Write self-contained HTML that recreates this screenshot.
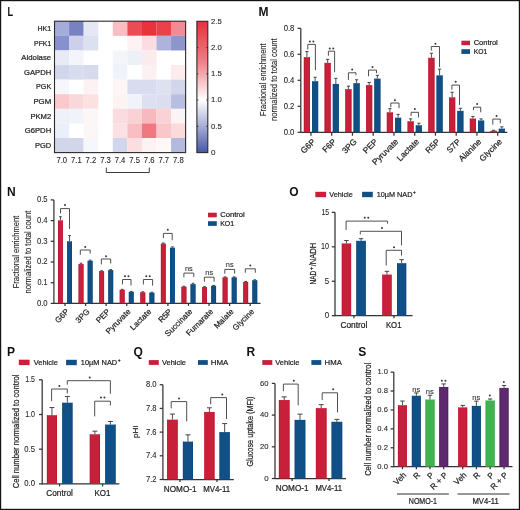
<!DOCTYPE html>
<html><head><meta charset="utf-8"><title>Figure</title>
<style>
html,body{margin:0;padding:0;background:#fff;}
body{width:520px;height:510px;overflow:hidden;}
svg{display:block;font-family:"Liberation Sans", sans-serif;will-change:transform;}
</style></head>
<body>
<svg width="520" height="510" viewBox="0 0 520 510">
<rect x="0" y="0" width="520" height="510" fill="#fff"/>
<g fill="#222222">
<text x="7.6" y="15.6" font-size="12" font-weight="bold" fill="#111111" textLength="5.6" lengthAdjust="spacingAndGlyphs">L</text>
<rect x="54.5" y="21.2" width="14.62" height="14.65" fill="rgb(165,172,218)"/>
<rect x="69.07" y="21.2" width="14.62" height="14.65" fill="rgb(120,130,195)"/>
<rect x="83.64" y="21.2" width="14.62" height="14.65" fill="rgb(228,232,245)"/>
<rect x="112.78" y="21.2" width="14.62" height="14.65" fill="rgb(248,190,195)"/>
<rect x="127.35" y="21.2" width="14.62" height="14.65" fill="rgb(235,75,85)"/>
<rect x="141.92" y="21.2" width="14.62" height="14.65" fill="rgb(232,50,60)"/>
<rect x="156.49" y="21.2" width="14.62" height="14.65" fill="rgb(236,65,75)"/>
<rect x="171.06" y="21.2" width="14.62" height="14.65" fill="rgb(240,140,150)"/>
<rect x="54.5" y="35.8" width="14.62" height="14.65" fill="rgb(135,145,205)"/>
<rect x="69.07" y="35.8" width="14.62" height="14.65" fill="rgb(205,208,232)"/>
<rect x="83.64" y="35.8" width="14.62" height="14.65" fill="rgb(220,224,240)"/>
<rect x="127.35" y="35.8" width="14.62" height="14.65" fill="rgb(253,243,243)"/>
<rect x="141.92" y="35.8" width="14.62" height="14.65" fill="rgb(250,220,225)"/>
<rect x="156.49" y="35.8" width="14.62" height="14.65" fill="rgb(175,178,220)"/>
<rect x="171.06" y="35.8" width="14.62" height="14.65" fill="rgb(140,150,205)"/>
<rect x="54.5" y="50.4" width="14.62" height="14.65" fill="rgb(232,235,245)"/>
<rect x="69.07" y="50.4" width="14.62" height="14.65" fill="rgb(243,245,250)"/>
<rect x="112.78" y="50.4" width="14.62" height="14.65" fill="rgb(243,245,250)"/>
<rect x="127.35" y="50.4" width="14.62" height="14.65" fill="rgb(238,240,248)"/>
<rect x="141.92" y="50.4" width="14.62" height="14.65" fill="rgb(252,235,237)"/>
<rect x="54.5" y="65" width="14.62" height="14.65" fill="rgb(210,214,235)"/>
<rect x="69.07" y="65" width="14.62" height="14.65" fill="rgb(215,220,238)"/>
<rect x="83.64" y="65" width="14.62" height="14.65" fill="rgb(215,218,236)"/>
<rect x="112.78" y="65" width="14.62" height="14.65" fill="rgb(240,243,250)"/>
<rect x="141.92" y="65" width="14.62" height="14.65" fill="rgb(253,240,242)"/>
<rect x="171.06" y="65" width="14.62" height="14.65" fill="rgb(253,235,237)"/>
<rect x="54.5" y="79.6" width="14.62" height="14.65" fill="rgb(245,247,252)"/>
<rect x="83.64" y="79.6" width="14.62" height="14.65" fill="rgb(253,242,243)"/>
<rect x="112.78" y="79.6" width="14.62" height="14.65" fill="rgb(253,245,246)"/>
<rect x="127.35" y="79.6" width="14.62" height="14.65" fill="rgb(215,220,238)"/>
<rect x="141.92" y="79.6" width="14.62" height="14.65" fill="rgb(215,220,238)"/>
<rect x="156.49" y="79.6" width="14.62" height="14.65" fill="rgb(222,226,240)"/>
<rect x="171.06" y="79.6" width="14.62" height="14.65" fill="rgb(210,214,234)"/>
<rect x="54.5" y="94.2" width="14.62" height="14.65" fill="rgb(250,200,205)"/>
<rect x="69.07" y="94.2" width="14.62" height="14.65" fill="rgb(250,215,218)"/>
<rect x="83.64" y="94.2" width="14.62" height="14.65" fill="rgb(252,225,225)"/>
<rect x="112.78" y="94.2" width="14.62" height="14.65" fill="rgb(253,243,244)"/>
<rect x="127.35" y="94.2" width="14.62" height="14.65" fill="rgb(240,244,250)"/>
<rect x="141.92" y="94.2" width="14.62" height="14.65" fill="rgb(220,224,240)"/>
<rect x="156.49" y="94.2" width="14.62" height="14.65" fill="rgb(218,222,238)"/>
<rect x="171.06" y="94.2" width="14.62" height="14.65" fill="rgb(185,190,225)"/>
<rect x="54.5" y="108.8" width="14.62" height="14.65" fill="rgb(238,241,249)"/>
<rect x="69.07" y="108.8" width="14.62" height="14.65" fill="rgb(240,243,250)"/>
<rect x="83.64" y="108.8" width="14.62" height="14.65" fill="rgb(253,246,246)"/>
<rect x="112.78" y="108.8" width="14.62" height="14.65" fill="rgb(251,220,222)"/>
<rect x="127.35" y="108.8" width="14.62" height="14.65" fill="rgb(249,210,213)"/>
<rect x="141.92" y="108.8" width="14.62" height="14.65" fill="rgb(247,185,190)"/>
<rect x="156.49" y="108.8" width="14.62" height="14.65" fill="rgb(250,210,213)"/>
<rect x="171.06" y="108.8" width="14.62" height="14.65" fill="rgb(251,244,246)"/>
<rect x="54.5" y="123.4" width="14.62" height="14.65" fill="rgb(235,239,249)"/>
<rect x="83.64" y="123.4" width="14.62" height="14.65" fill="rgb(253,246,246)"/>
<rect x="112.78" y="123.4" width="14.62" height="14.65" fill="rgb(251,225,227)"/>
<rect x="127.35" y="123.4" width="14.62" height="14.65" fill="rgb(248,190,195)"/>
<rect x="141.92" y="123.4" width="14.62" height="14.65" fill="rgb(240,120,130)"/>
<rect x="156.49" y="123.4" width="14.62" height="14.65" fill="rgb(249,198,202)"/>
<rect x="171.06" y="123.4" width="14.62" height="14.65" fill="rgb(251,218,220)"/>
<rect x="54.5" y="138" width="14.62" height="14.65" fill="rgb(210,214,235)"/>
<rect x="69.07" y="138" width="14.62" height="14.65" fill="rgb(210,214,234)"/>
<rect x="83.64" y="138" width="14.62" height="14.65" fill="rgb(245,247,251)"/>
<rect x="112.78" y="138" width="14.62" height="14.65" fill="rgb(210,214,236)"/>
<rect x="127.35" y="138" width="14.62" height="14.65" fill="rgb(252,222,225)"/>
<rect x="141.92" y="138" width="14.62" height="14.65" fill="rgb(253,243,244)"/>
<rect x="156.49" y="138" width="14.62" height="14.65" fill="rgb(254,248,248)"/>
<rect x="171.06" y="138" width="14.62" height="14.65" fill="rgb(180,185,222)"/>
<rect x="54.5" y="21.2" width="131.13" height="131.4" fill="none" stroke="#2a2a2a" stroke-width="1.1"/>
<text x="51.2" y="30.9" font-size="7.8" text-anchor="end" stroke="#222222" stroke-width="0.22" textLength="13.7" lengthAdjust="spacingAndGlyphs">HK1</text>
<text x="51.2" y="45.5" font-size="7.8" text-anchor="end" stroke="#222222" stroke-width="0.22" textLength="17.1" lengthAdjust="spacingAndGlyphs">PFK1</text>
<text x="51.2" y="60.1" font-size="7.8" text-anchor="end" stroke="#222222" stroke-width="0.22" textLength="29.9" lengthAdjust="spacingAndGlyphs">Aldolase</text>
<text x="51.2" y="74.7" font-size="7.8" text-anchor="end" stroke="#222222" stroke-width="0.22" textLength="27.1" lengthAdjust="spacingAndGlyphs">GAPDH</text>
<text x="51.2" y="89.3" font-size="7.8" text-anchor="end" stroke="#222222" stroke-width="0.22" textLength="15.2" lengthAdjust="spacingAndGlyphs">PGK</text>
<text x="51.2" y="103.9" font-size="7.8" text-anchor="end" stroke="#222222" stroke-width="0.22" textLength="17.8" lengthAdjust="spacingAndGlyphs">PGM</text>
<text x="51.2" y="118.5" font-size="7.8" text-anchor="end" stroke="#222222" stroke-width="0.22" textLength="20.8" lengthAdjust="spacingAndGlyphs">PKM2</text>
<text x="51.2" y="133.1" font-size="7.8" text-anchor="end" stroke="#222222" stroke-width="0.22" textLength="26.4" lengthAdjust="spacingAndGlyphs">G6PDH</text>
<text x="51.2" y="147.7" font-size="7.8" text-anchor="end" stroke="#222222" stroke-width="0.22" textLength="16.2" lengthAdjust="spacingAndGlyphs">PGD</text>
<text x="61.78" y="162.6" font-size="8.4" text-anchor="middle" stroke="#222222" stroke-width="0.08" textLength="10.7" lengthAdjust="spacingAndGlyphs">7.0</text>
<text x="76.35" y="162.6" font-size="8.4" text-anchor="middle" stroke="#222222" stroke-width="0.08" textLength="10.7" lengthAdjust="spacingAndGlyphs">7.1</text>
<text x="90.92" y="162.6" font-size="8.4" text-anchor="middle" stroke="#222222" stroke-width="0.08" textLength="10.7" lengthAdjust="spacingAndGlyphs">7.2</text>
<text x="105.5" y="162.6" font-size="8.4" text-anchor="middle" stroke="#222222" stroke-width="0.08" textLength="10.7" lengthAdjust="spacingAndGlyphs">7.3</text>
<text x="120.06" y="162.6" font-size="8.4" text-anchor="middle" stroke="#222222" stroke-width="0.08" textLength="10.7" lengthAdjust="spacingAndGlyphs">7.4</text>
<text x="134.63" y="162.6" font-size="8.4" text-anchor="middle" stroke="#222222" stroke-width="0.08" textLength="10.7" lengthAdjust="spacingAndGlyphs">7.5</text>
<text x="149.21" y="162.6" font-size="8.4" text-anchor="middle" stroke="#222222" stroke-width="0.08" textLength="10.7" lengthAdjust="spacingAndGlyphs">7.6</text>
<text x="163.78" y="162.6" font-size="8.4" text-anchor="middle" stroke="#222222" stroke-width="0.08" textLength="10.7" lengthAdjust="spacingAndGlyphs">7.7</text>
<text x="178.34" y="162.6" font-size="8.4" text-anchor="middle" stroke="#222222" stroke-width="0.08" textLength="10.7" lengthAdjust="spacingAndGlyphs">7.8</text>
<polyline points="106.3,167.6 106.3,172.5 149.3,172.5 149.3,167.6" fill="none" stroke="#333" stroke-width="0.95"/>
<defs><linearGradient id="cb" x1="0" y1="0" x2="0" y2="1"><stop offset="0" stop-color="#e8303a"/><stop offset="0.3" stop-color="#f07c84"/><stop offset="0.6" stop-color="#ffffff"/><stop offset="0.8" stop-color="#a6acd6"/><stop offset="1" stop-color="#4658a8"/></linearGradient></defs>
<rect x="196.9" y="21.3" width="10.9" height="131.3" fill="url(#cb)" stroke="#2a2a2a" stroke-width="1.1"/>
<text x="211" y="23.5" font-size="8.1" stroke="#222222" stroke-width="0.08" textLength="10.8" lengthAdjust="spacingAndGlyphs">2.5</text>
<line x1="196.9" y1="47.56" x2="198.4" y2="47.56" stroke="#2a2a2a" stroke-width="0.9"/>
<line x1="206.3" y1="47.56" x2="207.8" y2="47.56" stroke="#2a2a2a" stroke-width="0.9"/>
<text x="211" y="49.76" font-size="8.1" stroke="#222222" stroke-width="0.08" textLength="10.8" lengthAdjust="spacingAndGlyphs">2.0</text>
<line x1="196.9" y1="73.82" x2="198.4" y2="73.82" stroke="#2a2a2a" stroke-width="0.9"/>
<line x1="206.3" y1="73.82" x2="207.8" y2="73.82" stroke="#2a2a2a" stroke-width="0.9"/>
<text x="211" y="76.02" font-size="8.1" stroke="#222222" stroke-width="0.08" textLength="10.8" lengthAdjust="spacingAndGlyphs">1.5</text>
<line x1="196.9" y1="100.08" x2="198.4" y2="100.08" stroke="#2a2a2a" stroke-width="0.9"/>
<line x1="206.3" y1="100.08" x2="207.8" y2="100.08" stroke="#2a2a2a" stroke-width="0.9"/>
<text x="211" y="102.28" font-size="8.1" stroke="#222222" stroke-width="0.08" textLength="10.8" lengthAdjust="spacingAndGlyphs">1.0</text>
<line x1="196.9" y1="126.34" x2="198.4" y2="126.34" stroke="#2a2a2a" stroke-width="0.9"/>
<line x1="206.3" y1="126.34" x2="207.8" y2="126.34" stroke="#2a2a2a" stroke-width="0.9"/>
<text x="211" y="128.54" font-size="8.1" stroke="#222222" stroke-width="0.08" textLength="10.8" lengthAdjust="spacingAndGlyphs">0.5</text>
<text x="211" y="154.8" font-size="8.1" stroke="#222222" stroke-width="0.08">0</text>
<text x="258.4" y="15.7" font-size="12" font-weight="bold" fill="#111111">M</text>
<line x1="300.8" y1="28.3" x2="300.8" y2="132.8" stroke="#333333" stroke-width="1.25"/>
<line x1="297.6" y1="132.3" x2="300.8" y2="132.3" stroke="#333333" stroke-width="1.25"/>
<text x="294.4" y="134.7" font-size="8.2" text-anchor="end" stroke="#222222" stroke-width="0.08" textLength="10.7" lengthAdjust="spacingAndGlyphs">0.0</text>
<line x1="297.6" y1="106.3" x2="300.8" y2="106.3" stroke="#333333" stroke-width="1.25"/>
<text x="294.4" y="108.7" font-size="8.2" text-anchor="end" stroke="#222222" stroke-width="0.08" textLength="10.7" lengthAdjust="spacingAndGlyphs">0.2</text>
<line x1="297.6" y1="80.3" x2="300.8" y2="80.3" stroke="#333333" stroke-width="1.25"/>
<text x="294.4" y="82.7" font-size="8.2" text-anchor="end" stroke="#222222" stroke-width="0.08" textLength="10.7" lengthAdjust="spacingAndGlyphs">0.4</text>
<line x1="297.6" y1="54.3" x2="300.8" y2="54.3" stroke="#333333" stroke-width="1.25"/>
<text x="294.4" y="56.7" font-size="8.2" text-anchor="end" stroke="#222222" stroke-width="0.08" textLength="10.7" lengthAdjust="spacingAndGlyphs">0.6</text>
<line x1="297.6" y1="28.3" x2="300.8" y2="28.3" stroke="#333333" stroke-width="1.25"/>
<text x="294.4" y="30.7" font-size="8.2" text-anchor="end" stroke="#222222" stroke-width="0.08" textLength="10.7" lengthAdjust="spacingAndGlyphs">0.8</text>
<line x1="300.8" y1="132.3" x2="507.3" y2="132.3" stroke="#333333" stroke-width="1.25"/>
<rect x="303.85" y="57.16" width="6.1" height="75.14" fill="#c8203a"/>
<rect x="303.85" y="57.16" width="0.6" height="75.14" fill="#b5102a" opacity="0.8"/>
<rect x="309.35" y="57.16" width="0.6" height="75.14" fill="#b5102a" opacity="0.8"/>
<line x1="306.9" y1="57.16" x2="306.9" y2="51.57" stroke="#3a3a3a" stroke-width="0.9"/>
<line x1="305.3" y1="51.57" x2="308.5" y2="51.57" stroke="#3a3a3a" stroke-width="0.95"/>
<rect x="312.05" y="81.21" width="6.1" height="51.09" fill="#115086"/>
<rect x="312.05" y="81.21" width="0.6" height="51.09" fill="#0a4478" opacity="0.8"/>
<rect x="317.55" y="81.21" width="0.6" height="51.09" fill="#0a4478" opacity="0.8"/>
<line x1="315.1" y1="81.21" x2="315.1" y2="77.31" stroke="#3a3a3a" stroke-width="0.9"/>
<line x1="313.5" y1="77.31" x2="316.7" y2="77.31" stroke="#3a3a3a" stroke-width="0.95"/>
<line x1="310.95" y1="132.3" x2="310.95" y2="135.7" stroke="#333333" stroke-width="1.25"/>
<polyline points="307.8,49.5 307.8,44.4 315.4,44.4 315.4,70.1" fill="none" stroke="#3c3c3c" stroke-width="0.9"/>
<circle cx="309.85" cy="41.6" r="1.0" fill="#383838"/>
<circle cx="313.35" cy="41.6" r="1.0" fill="#383838"/>
<text x="315.85" y="142.2" font-size="8.4" text-anchor="end" stroke="#222222" stroke-width="0.22" transform="rotate(-45 315.85 142.2)">G6P</text>
<rect x="324.6" y="62.88" width="6.1" height="69.42" fill="#c8203a"/>
<rect x="324.6" y="62.88" width="0.6" height="69.42" fill="#b5102a" opacity="0.8"/>
<rect x="330.1" y="62.88" width="0.6" height="69.42" fill="#b5102a" opacity="0.8"/>
<line x1="327.65" y1="62.88" x2="327.65" y2="59.37" stroke="#3a3a3a" stroke-width="0.9"/>
<line x1="326.05" y1="59.37" x2="329.25" y2="59.37" stroke="#3a3a3a" stroke-width="0.95"/>
<rect x="332.8" y="83.94" width="6.1" height="48.36" fill="#115086"/>
<rect x="332.8" y="83.94" width="0.6" height="48.36" fill="#0a4478" opacity="0.8"/>
<rect x="338.3" y="83.94" width="0.6" height="48.36" fill="#0a4478" opacity="0.8"/>
<line x1="335.85" y1="83.94" x2="335.85" y2="78.35" stroke="#3a3a3a" stroke-width="0.9"/>
<line x1="334.25" y1="78.35" x2="337.45" y2="78.35" stroke="#3a3a3a" stroke-width="0.95"/>
<line x1="331.7" y1="132.3" x2="331.7" y2="135.7" stroke="#333333" stroke-width="1.25"/>
<polyline points="328.4,55.7 328.4,51.2 334.6,51.2 334.6,72.2" fill="none" stroke="#3c3c3c" stroke-width="0.9"/>
<circle cx="329.75" cy="48.4" r="1.0" fill="#383838"/>
<circle cx="333.25" cy="48.4" r="1.0" fill="#383838"/>
<text x="336.6" y="142.2" font-size="8.4" text-anchor="end" stroke="#222222" stroke-width="0.22" transform="rotate(-45 336.6 142.2)">F6P</text>
<rect x="345.35" y="89.14" width="6.1" height="43.16" fill="#c8203a"/>
<rect x="345.35" y="89.14" width="0.6" height="43.16" fill="#b5102a" opacity="0.8"/>
<rect x="350.85" y="89.14" width="0.6" height="43.16" fill="#b5102a" opacity="0.8"/>
<line x1="348.4" y1="89.14" x2="348.4" y2="86.15" stroke="#3a3a3a" stroke-width="0.9"/>
<line x1="346.8" y1="86.15" x2="350" y2="86.15" stroke="#3a3a3a" stroke-width="0.95"/>
<rect x="353.55" y="83.16" width="6.1" height="49.14" fill="#115086"/>
<rect x="353.55" y="83.16" width="0.6" height="49.14" fill="#0a4478" opacity="0.8"/>
<rect x="359.05" y="83.16" width="0.6" height="49.14" fill="#0a4478" opacity="0.8"/>
<line x1="356.6" y1="83.16" x2="356.6" y2="79.78" stroke="#3a3a3a" stroke-width="0.9"/>
<line x1="355" y1="79.78" x2="358.2" y2="79.78" stroke="#3a3a3a" stroke-width="0.95"/>
<line x1="352.45" y1="132.3" x2="352.45" y2="135.7" stroke="#333333" stroke-width="1.25"/>
<polyline points="348.4,80 348.4,72.8 356,72.8 356,75.3" fill="none" stroke="#3c3c3c" stroke-width="0.9"/>
<circle cx="352.2" cy="69.4" r="1.0" fill="#383838"/>
<text x="357.35" y="142.2" font-size="8.4" text-anchor="end" stroke="#222222" stroke-width="0.22" transform="rotate(-45 357.35 142.2)">3PG</text>
<rect x="366.1" y="85.11" width="6.1" height="47.19" fill="#c8203a"/>
<rect x="366.1" y="85.11" width="0.6" height="47.19" fill="#b5102a" opacity="0.8"/>
<rect x="371.6" y="85.11" width="0.6" height="47.19" fill="#b5102a" opacity="0.8"/>
<line x1="369.15" y1="85.11" x2="369.15" y2="82.51" stroke="#3a3a3a" stroke-width="0.9"/>
<line x1="367.55" y1="82.51" x2="370.75" y2="82.51" stroke="#3a3a3a" stroke-width="0.95"/>
<rect x="374.3" y="78.61" width="6.1" height="53.69" fill="#115086"/>
<rect x="374.3" y="78.61" width="0.6" height="53.69" fill="#0a4478" opacity="0.8"/>
<rect x="379.8" y="78.61" width="0.6" height="53.69" fill="#0a4478" opacity="0.8"/>
<line x1="377.35" y1="78.61" x2="377.35" y2="75.36" stroke="#3a3a3a" stroke-width="0.9"/>
<line x1="375.75" y1="75.36" x2="378.95" y2="75.36" stroke="#3a3a3a" stroke-width="0.95"/>
<line x1="373.2" y1="132.3" x2="373.2" y2="135.7" stroke="#333333" stroke-width="1.25"/>
<polyline points="368.5,76.3 368.5,70.1 376.5,70.1 376.5,73.2" fill="none" stroke="#3c3c3c" stroke-width="0.9"/>
<circle cx="372.5" cy="66.9" r="1.0" fill="#383838"/>
<text x="378.1" y="142.2" font-size="8.4" text-anchor="end" stroke="#222222" stroke-width="0.22" transform="rotate(-45 378.1 142.2)">PEP</text>
<rect x="386.85" y="112.28" width="6.1" height="20.02" fill="#c8203a"/>
<rect x="386.85" y="112.28" width="0.6" height="20.02" fill="#b5102a" opacity="0.8"/>
<rect x="392.35" y="112.28" width="0.6" height="20.02" fill="#b5102a" opacity="0.8"/>
<line x1="389.9" y1="112.28" x2="389.9" y2="108.64" stroke="#3a3a3a" stroke-width="0.9"/>
<line x1="388.3" y1="108.64" x2="391.5" y2="108.64" stroke="#3a3a3a" stroke-width="0.95"/>
<rect x="395.05" y="117.74" width="6.1" height="14.56" fill="#115086"/>
<rect x="395.05" y="117.74" width="0.6" height="14.56" fill="#0a4478" opacity="0.8"/>
<rect x="400.55" y="117.74" width="0.6" height="14.56" fill="#0a4478" opacity="0.8"/>
<line x1="398.1" y1="117.74" x2="398.1" y2="114.36" stroke="#3a3a3a" stroke-width="0.9"/>
<line x1="396.5" y1="114.36" x2="399.7" y2="114.36" stroke="#3a3a3a" stroke-width="0.95"/>
<line x1="393.95" y1="132.3" x2="393.95" y2="135.7" stroke="#333333" stroke-width="1.25"/>
<polyline points="390.8,107.2 390.8,103 399,103 399,108.2" fill="none" stroke="#3c3c3c" stroke-width="0.9"/>
<circle cx="394.9" cy="100.3" r="1.0" fill="#383838"/>
<text x="398.85" y="142.2" font-size="8.4" text-anchor="end" stroke="#222222" stroke-width="0.22" transform="rotate(-45 398.85 142.2)">Pyruvate</text>
<rect x="407.6" y="121.25" width="6.1" height="11.05" fill="#c8203a"/>
<rect x="407.6" y="121.25" width="0.6" height="11.05" fill="#b5102a" opacity="0.8"/>
<rect x="413.1" y="121.25" width="0.6" height="11.05" fill="#b5102a" opacity="0.8"/>
<line x1="410.65" y1="121.25" x2="410.65" y2="118.91" stroke="#3a3a3a" stroke-width="0.9"/>
<line x1="409.05" y1="118.91" x2="412.25" y2="118.91" stroke="#3a3a3a" stroke-width="0.95"/>
<rect x="415.8" y="125.28" width="6.1" height="7.02" fill="#115086"/>
<rect x="415.8" y="125.28" width="0.6" height="7.02" fill="#0a4478" opacity="0.8"/>
<rect x="421.3" y="125.28" width="0.6" height="7.02" fill="#0a4478" opacity="0.8"/>
<line x1="418.85" y1="125.28" x2="418.85" y2="123.2" stroke="#3a3a3a" stroke-width="0.9"/>
<line x1="417.25" y1="123.2" x2="420.45" y2="123.2" stroke="#3a3a3a" stroke-width="0.95"/>
<line x1="414.7" y1="132.3" x2="414.7" y2="135.7" stroke="#333333" stroke-width="1.25"/>
<polyline points="411.1,116 411.1,112.3 418.5,112.3 418.5,117.4" fill="none" stroke="#3c3c3c" stroke-width="0.9"/>
<circle cx="414.8" cy="108.9" r="1.0" fill="#383838"/>
<text x="419.6" y="142.2" font-size="8.4" text-anchor="end" stroke="#222222" stroke-width="0.22" transform="rotate(-45 419.6 142.2)">Lactate</text>
<rect x="428.35" y="57.81" width="6.1" height="74.49" fill="#c8203a"/>
<rect x="428.35" y="57.81" width="0.6" height="74.49" fill="#b5102a" opacity="0.8"/>
<rect x="433.85" y="57.81" width="0.6" height="74.49" fill="#b5102a" opacity="0.8"/>
<line x1="431.4" y1="57.81" x2="431.4" y2="53.26" stroke="#3a3a3a" stroke-width="0.9"/>
<line x1="429.8" y1="53.26" x2="433" y2="53.26" stroke="#3a3a3a" stroke-width="0.95"/>
<rect x="436.55" y="75.36" width="6.1" height="56.94" fill="#115086"/>
<rect x="436.55" y="75.36" width="0.6" height="56.94" fill="#0a4478" opacity="0.8"/>
<rect x="442.05" y="75.36" width="0.6" height="56.94" fill="#0a4478" opacity="0.8"/>
<line x1="439.6" y1="75.36" x2="439.6" y2="69.12" stroke="#3a3a3a" stroke-width="0.9"/>
<line x1="438" y1="69.12" x2="441.2" y2="69.12" stroke="#3a3a3a" stroke-width="0.95"/>
<line x1="435.45" y1="132.3" x2="435.45" y2="135.7" stroke="#333333" stroke-width="1.25"/>
<polyline points="431.3,50.6 431.3,46.5 439.5,46.5 439.5,67" fill="none" stroke="#3c3c3c" stroke-width="0.9"/>
<circle cx="435.4" cy="43.7" r="1.0" fill="#383838"/>
<text x="440.35" y="142.2" font-size="8.4" text-anchor="end" stroke="#222222" stroke-width="0.22" transform="rotate(-45 440.35 142.2)">R5P</text>
<rect x="449.1" y="97.33" width="6.1" height="34.97" fill="#c8203a"/>
<rect x="449.1" y="97.33" width="0.6" height="34.97" fill="#b5102a" opacity="0.8"/>
<rect x="454.6" y="97.33" width="0.6" height="34.97" fill="#b5102a" opacity="0.8"/>
<line x1="452.15" y1="97.33" x2="452.15" y2="92.26" stroke="#3a3a3a" stroke-width="0.9"/>
<line x1="450.55" y1="92.26" x2="453.75" y2="92.26" stroke="#3a3a3a" stroke-width="0.95"/>
<rect x="457.3" y="110.85" width="6.1" height="21.45" fill="#115086"/>
<rect x="457.3" y="110.85" width="0.6" height="21.45" fill="#0a4478" opacity="0.8"/>
<rect x="462.8" y="110.85" width="0.6" height="21.45" fill="#0a4478" opacity="0.8"/>
<line x1="460.35" y1="110.85" x2="460.35" y2="108.25" stroke="#3a3a3a" stroke-width="0.9"/>
<line x1="458.75" y1="108.25" x2="461.95" y2="108.25" stroke="#3a3a3a" stroke-width="0.95"/>
<line x1="456.2" y1="132.3" x2="456.2" y2="135.7" stroke="#333333" stroke-width="1.25"/>
<polyline points="451.9,89.7 451.9,85.1 459.5,85.1 459.5,105.1" fill="none" stroke="#3c3c3c" stroke-width="0.9"/>
<circle cx="455.7" cy="81.7" r="1.0" fill="#383838"/>
<text x="461.1" y="142.2" font-size="8.4" text-anchor="end" stroke="#222222" stroke-width="0.22" transform="rotate(-45 461.1 142.2)">S7P</text>
<rect x="469.85" y="118.52" width="6.1" height="13.78" fill="#c8203a"/>
<rect x="469.85" y="118.52" width="0.6" height="13.78" fill="#b5102a" opacity="0.8"/>
<rect x="475.35" y="118.52" width="0.6" height="13.78" fill="#b5102a" opacity="0.8"/>
<line x1="472.9" y1="118.52" x2="472.9" y2="116.44" stroke="#3a3a3a" stroke-width="0.9"/>
<line x1="471.3" y1="116.44" x2="474.5" y2="116.44" stroke="#3a3a3a" stroke-width="0.95"/>
<rect x="478.05" y="120.47" width="6.1" height="11.83" fill="#115086"/>
<rect x="478.05" y="120.47" width="0.6" height="11.83" fill="#0a4478" opacity="0.8"/>
<rect x="483.55" y="120.47" width="0.6" height="11.83" fill="#0a4478" opacity="0.8"/>
<line x1="481.1" y1="120.47" x2="481.1" y2="118.91" stroke="#3a3a3a" stroke-width="0.9"/>
<line x1="479.5" y1="118.91" x2="482.7" y2="118.91" stroke="#3a3a3a" stroke-width="0.95"/>
<line x1="476.95" y1="132.3" x2="476.95" y2="135.7" stroke="#333333" stroke-width="1.25"/>
<polyline points="473.5,110.2 473.5,107.2 480.7,107.2 480.7,112.3" fill="none" stroke="#3c3c3c" stroke-width="0.9"/>
<circle cx="477.1" cy="104" r="1.0" fill="#383838"/>
<text x="481.85" y="142.2" font-size="8.4" text-anchor="end" stroke="#222222" stroke-width="0.22" transform="rotate(-45 481.85 142.2)">Alanine</text>
<rect x="490.6" y="130.74" width="6.1" height="1.56" fill="#c8203a"/>
<rect x="490.6" y="130.74" width="0.6" height="1.56" fill="#b5102a" opacity="0.8"/>
<rect x="496.1" y="130.74" width="0.6" height="1.56" fill="#b5102a" opacity="0.8"/>
<line x1="493.65" y1="130.74" x2="493.65" y2="130.22" stroke="#3a3a3a" stroke-width="0.9"/>
<line x1="492.05" y1="130.22" x2="495.25" y2="130.22" stroke="#3a3a3a" stroke-width="0.95"/>
<rect x="498.8" y="128.66" width="6.1" height="3.64" fill="#115086"/>
<rect x="498.8" y="128.66" width="0.6" height="3.64" fill="#0a4478" opacity="0.8"/>
<rect x="504.3" y="128.66" width="0.6" height="3.64" fill="#0a4478" opacity="0.8"/>
<line x1="501.85" y1="128.66" x2="501.85" y2="126.84" stroke="#3a3a3a" stroke-width="0.9"/>
<line x1="500.25" y1="126.84" x2="503.45" y2="126.84" stroke="#3a3a3a" stroke-width="0.95"/>
<line x1="497.7" y1="132.3" x2="497.7" y2="135.7" stroke="#333333" stroke-width="1.25"/>
<polyline points="492.8,124.6 492.8,119.1 500.3,119.1 500.3,123.3" fill="none" stroke="#3c3c3c" stroke-width="0.9"/>
<circle cx="496.55" cy="116.1" r="1.0" fill="#383838"/>
<text x="502.6" y="142.2" font-size="8.4" text-anchor="end" stroke="#222222" stroke-width="0.22" transform="rotate(-45 502.6 142.2)">Glycine</text>
<rect x="461.4" y="40.7" width="8.6" height="4.5" fill="#c8203a"/>
<text x="473.7" y="45.2" font-size="7.4" stroke="#222222" stroke-width="0.22" textLength="24.1" lengthAdjust="spacingAndGlyphs">Control</text>
<rect x="461.4" y="49.2" width="8.6" height="4.7" fill="#115086"/>
<text x="473.7" y="53.9" font-size="7.4" stroke="#222222" stroke-width="0.22" textLength="13.5" lengthAdjust="spacingAndGlyphs">KO1</text>
<text x="265.6" y="79.7" font-size="8.6" text-anchor="middle" stroke="#222222" stroke-width="0.1" transform="rotate(-90 265.6 79.7)" textLength="72.7" lengthAdjust="spacingAndGlyphs">Fractional enrichment</text>
<text x="277.2" y="79.7" font-size="8.6" text-anchor="middle" stroke="#222222" stroke-width="0.1" transform="rotate(-90 277.2 79.7)" textLength="82.6" lengthAdjust="spacingAndGlyphs">normalized to total count</text>
<text x="7.1" y="195.7" font-size="12" font-weight="bold" fill="#111111">N</text>
<line x1="53.9" y1="199.9" x2="53.9" y2="303.9" stroke="#333333" stroke-width="1.25"/>
<line x1="50.7" y1="303.4" x2="53.9" y2="303.4" stroke="#333333" stroke-width="1.25"/>
<text x="47.6" y="305.84" font-size="8.3" text-anchor="end" stroke="#222222" stroke-width="0.08" textLength="10.7" lengthAdjust="spacingAndGlyphs">0.0</text>
<line x1="50.7" y1="282.7" x2="53.9" y2="282.7" stroke="#333333" stroke-width="1.25"/>
<text x="47.6" y="285.14" font-size="8.3" text-anchor="end" stroke="#222222" stroke-width="0.08" textLength="10" lengthAdjust="spacingAndGlyphs">0.1</text>
<line x1="50.7" y1="262" x2="53.9" y2="262" stroke="#333333" stroke-width="1.25"/>
<text x="47.6" y="264.44" font-size="8.3" text-anchor="end" stroke="#222222" stroke-width="0.08" textLength="10.7" lengthAdjust="spacingAndGlyphs">0.2</text>
<line x1="50.7" y1="241.3" x2="53.9" y2="241.3" stroke="#333333" stroke-width="1.25"/>
<text x="47.6" y="243.74" font-size="8.3" text-anchor="end" stroke="#222222" stroke-width="0.08" textLength="10.7" lengthAdjust="spacingAndGlyphs">0.3</text>
<line x1="50.7" y1="220.6" x2="53.9" y2="220.6" stroke="#333333" stroke-width="1.25"/>
<text x="47.6" y="223.04" font-size="8.3" text-anchor="end" stroke="#222222" stroke-width="0.08" textLength="10.7" lengthAdjust="spacingAndGlyphs">0.4</text>
<line x1="50.7" y1="199.9" x2="53.9" y2="199.9" stroke="#333333" stroke-width="1.25"/>
<text x="47.6" y="202.34" font-size="8.3" text-anchor="end" stroke="#222222" stroke-width="0.08" textLength="10.7" lengthAdjust="spacingAndGlyphs">0.5</text>
<line x1="53.9" y1="303.4" x2="260.5" y2="303.4" stroke="#333333" stroke-width="1.25"/>
<rect x="58" y="220.39" width="4.9" height="83.01" fill="#c8203a"/>
<rect x="58" y="220.39" width="0.6" height="83.01" fill="#b5102a" opacity="0.8"/>
<rect x="62.3" y="220.39" width="0.6" height="83.01" fill="#b5102a" opacity="0.8"/>
<line x1="60.45" y1="220.39" x2="60.45" y2="216.67" stroke="#3a3a3a" stroke-width="0.9"/>
<line x1="59.15" y1="216.67" x2="61.75" y2="216.67" stroke="#3a3a3a" stroke-width="0.95"/>
<rect x="67.1" y="241.3" width="4.9" height="62.1" fill="#115086"/>
<rect x="67.1" y="241.3" width="0.6" height="62.1" fill="#0a4478" opacity="0.8"/>
<rect x="71.4" y="241.3" width="0.6" height="62.1" fill="#0a4478" opacity="0.8"/>
<line x1="69.55" y1="241.3" x2="69.55" y2="235.5" stroke="#3a3a3a" stroke-width="0.9"/>
<line x1="68.25" y1="235.5" x2="70.85" y2="235.5" stroke="#3a3a3a" stroke-width="0.95"/>
<line x1="65" y1="303.4" x2="65" y2="305.9" stroke="#333333" stroke-width="1.25"/>
<polyline points="60.5,213.3 60.5,208.6 69.5,208.6 69.5,229" fill="none" stroke="#3c3c3c" stroke-width="0.9"/>
<circle cx="65" cy="205" r="1.0" fill="#383838"/>
<text x="69.5" y="312.1" font-size="8" text-anchor="end" stroke="#222222" stroke-width="0.22" transform="rotate(-45 69.5 312.1)">G6P</text>
<rect x="78.58" y="264.07" width="4.9" height="39.33" fill="#c8203a"/>
<rect x="78.58" y="264.07" width="0.6" height="39.33" fill="#b5102a" opacity="0.8"/>
<rect x="82.88" y="264.07" width="0.6" height="39.33" fill="#b5102a" opacity="0.8"/>
<line x1="81.03" y1="264.07" x2="81.03" y2="263.24" stroke="#3a3a3a" stroke-width="0.9"/>
<line x1="79.73" y1="263.24" x2="82.33" y2="263.24" stroke="#3a3a3a" stroke-width="0.95"/>
<rect x="87.68" y="260.76" width="4.9" height="42.64" fill="#115086"/>
<rect x="87.68" y="260.76" width="0.6" height="42.64" fill="#0a4478" opacity="0.8"/>
<rect x="91.98" y="260.76" width="0.6" height="42.64" fill="#0a4478" opacity="0.8"/>
<line x1="90.13" y1="260.76" x2="90.13" y2="260.14" stroke="#3a3a3a" stroke-width="0.9"/>
<line x1="88.83" y1="260.14" x2="91.43" y2="260.14" stroke="#3a3a3a" stroke-width="0.95"/>
<line x1="85.58" y1="303.4" x2="85.58" y2="305.9" stroke="#333333" stroke-width="1.25"/>
<polyline points="80.3,254.9 80.3,250 90.2,250 90.2,253.6" fill="none" stroke="#3c3c3c" stroke-width="0.9"/>
<circle cx="85.25" cy="247" r="1.0" fill="#383838"/>
<text x="90.08" y="312.1" font-size="8" text-anchor="end" stroke="#222222" stroke-width="0.22" transform="rotate(-45 90.08 312.1)">3PG</text>
<rect x="99.16" y="271.11" width="4.9" height="32.29" fill="#c8203a"/>
<rect x="99.16" y="271.11" width="0.6" height="32.29" fill="#b5102a" opacity="0.8"/>
<rect x="103.46" y="271.11" width="0.6" height="32.29" fill="#b5102a" opacity="0.8"/>
<line x1="101.61" y1="271.11" x2="101.61" y2="270.69" stroke="#3a3a3a" stroke-width="0.9"/>
<line x1="100.31" y1="270.69" x2="102.91" y2="270.69" stroke="#3a3a3a" stroke-width="0.95"/>
<rect x="108.26" y="270.07" width="4.9" height="33.33" fill="#115086"/>
<rect x="108.26" y="270.07" width="0.6" height="33.33" fill="#0a4478" opacity="0.8"/>
<rect x="112.56" y="270.07" width="0.6" height="33.33" fill="#0a4478" opacity="0.8"/>
<line x1="110.71" y1="270.07" x2="110.71" y2="269.66" stroke="#3a3a3a" stroke-width="0.9"/>
<line x1="109.41" y1="269.66" x2="112.01" y2="269.66" stroke="#3a3a3a" stroke-width="0.95"/>
<line x1="106.16" y1="303.4" x2="106.16" y2="305.9" stroke="#333333" stroke-width="1.25"/>
<polyline points="101.4,264.4 101.4,259 110.7,259 110.7,263.5" fill="none" stroke="#3c3c3c" stroke-width="0.9"/>
<circle cx="106.05" cy="256.3" r="1.0" fill="#383838"/>
<text x="110.66" y="312.1" font-size="8" text-anchor="end" stroke="#222222" stroke-width="0.22" transform="rotate(-45 110.66 312.1)">PEP</text>
<rect x="119.74" y="289.74" width="4.9" height="13.66" fill="#c8203a"/>
<rect x="119.74" y="289.74" width="0.6" height="13.66" fill="#b5102a" opacity="0.8"/>
<rect x="124.04" y="289.74" width="0.6" height="13.66" fill="#b5102a" opacity="0.8"/>
<line x1="122.19" y1="289.74" x2="122.19" y2="289.32" stroke="#3a3a3a" stroke-width="0.9"/>
<line x1="120.89" y1="289.32" x2="123.49" y2="289.32" stroke="#3a3a3a" stroke-width="0.95"/>
<rect x="128.84" y="291.81" width="4.9" height="11.59" fill="#115086"/>
<rect x="128.84" y="291.81" width="0.6" height="11.59" fill="#0a4478" opacity="0.8"/>
<rect x="133.14" y="291.81" width="0.6" height="11.59" fill="#0a4478" opacity="0.8"/>
<line x1="131.29" y1="291.81" x2="131.29" y2="291.39" stroke="#3a3a3a" stroke-width="0.9"/>
<line x1="129.99" y1="291.39" x2="132.59" y2="291.39" stroke="#3a3a3a" stroke-width="0.95"/>
<line x1="126.74" y1="303.4" x2="126.74" y2="305.9" stroke="#333333" stroke-width="1.25"/>
<polyline points="122.5,284.4 122.5,279.5 131,279.5 131,285.5" fill="none" stroke="#3c3c3c" stroke-width="0.9"/>
<circle cx="125" cy="276.3" r="1.0" fill="#383838"/>
<circle cx="128.5" cy="276.3" r="1.0" fill="#383838"/>
<text x="131.24" y="312.1" font-size="8" text-anchor="end" stroke="#222222" stroke-width="0.22" transform="rotate(-45 131.24 312.1)">Pyruvate</text>
<rect x="140.32" y="292.22" width="4.9" height="11.18" fill="#c8203a"/>
<rect x="140.32" y="292.22" width="0.6" height="11.18" fill="#b5102a" opacity="0.8"/>
<rect x="144.62" y="292.22" width="0.6" height="11.18" fill="#b5102a" opacity="0.8"/>
<line x1="142.77" y1="292.22" x2="142.77" y2="291.81" stroke="#3a3a3a" stroke-width="0.9"/>
<line x1="141.47" y1="291.81" x2="144.07" y2="291.81" stroke="#3a3a3a" stroke-width="0.95"/>
<rect x="149.42" y="292.64" width="4.9" height="10.76" fill="#115086"/>
<rect x="149.42" y="292.64" width="0.6" height="10.76" fill="#0a4478" opacity="0.8"/>
<rect x="153.72" y="292.64" width="0.6" height="10.76" fill="#0a4478" opacity="0.8"/>
<line x1="151.87" y1="292.64" x2="151.87" y2="292.22" stroke="#3a3a3a" stroke-width="0.9"/>
<line x1="150.57" y1="292.22" x2="153.17" y2="292.22" stroke="#3a3a3a" stroke-width="0.95"/>
<line x1="147.32" y1="303.4" x2="147.32" y2="305.9" stroke="#333333" stroke-width="1.25"/>
<polyline points="143.4,284.5 143.4,279.5 152.6,279.5 152.6,285.6" fill="none" stroke="#3c3c3c" stroke-width="0.9"/>
<circle cx="146.25" cy="276.3" r="1.0" fill="#383838"/>
<circle cx="149.75" cy="276.3" r="1.0" fill="#383838"/>
<text x="151.82" y="312.1" font-size="8" text-anchor="end" stroke="#222222" stroke-width="0.22" transform="rotate(-45 151.82 312.1)">Lactate</text>
<rect x="160.9" y="243.58" width="4.9" height="59.82" fill="#c8203a"/>
<rect x="160.9" y="243.58" width="0.6" height="59.82" fill="#b5102a" opacity="0.8"/>
<rect x="165.2" y="243.58" width="0.6" height="59.82" fill="#b5102a" opacity="0.8"/>
<line x1="163.35" y1="243.58" x2="163.35" y2="242.96" stroke="#3a3a3a" stroke-width="0.9"/>
<line x1="162.05" y1="242.96" x2="164.65" y2="242.96" stroke="#3a3a3a" stroke-width="0.95"/>
<rect x="170" y="247.72" width="4.9" height="55.68" fill="#115086"/>
<rect x="170" y="247.72" width="0.6" height="55.68" fill="#0a4478" opacity="0.8"/>
<rect x="174.3" y="247.72" width="0.6" height="55.68" fill="#0a4478" opacity="0.8"/>
<line x1="172.45" y1="247.72" x2="172.45" y2="246.89" stroke="#3a3a3a" stroke-width="0.9"/>
<line x1="171.15" y1="246.89" x2="173.75" y2="246.89" stroke="#3a3a3a" stroke-width="0.95"/>
<line x1="167.9" y1="303.4" x2="167.9" y2="305.9" stroke="#333333" stroke-width="1.25"/>
<polyline points="163.4,238.1 163.4,233.4 172.2,233.4 172.2,240.3" fill="none" stroke="#3c3c3c" stroke-width="0.9"/>
<circle cx="167.8" cy="229.8" r="1.0" fill="#383838"/>
<text x="172.4" y="312.1" font-size="8" text-anchor="end" stroke="#222222" stroke-width="0.22" transform="rotate(-45 172.4 312.1)">R5P</text>
<rect x="181.48" y="286.63" width="4.9" height="16.77" fill="#c8203a"/>
<rect x="181.48" y="286.63" width="0.6" height="16.77" fill="#b5102a" opacity="0.8"/>
<rect x="185.78" y="286.63" width="0.6" height="16.77" fill="#b5102a" opacity="0.8"/>
<line x1="183.93" y1="286.63" x2="183.93" y2="286.22" stroke="#3a3a3a" stroke-width="0.9"/>
<line x1="182.63" y1="286.22" x2="185.23" y2="286.22" stroke="#3a3a3a" stroke-width="0.95"/>
<rect x="190.58" y="284.15" width="4.9" height="19.25" fill="#115086"/>
<rect x="190.58" y="284.15" width="0.6" height="19.25" fill="#0a4478" opacity="0.8"/>
<rect x="194.88" y="284.15" width="0.6" height="19.25" fill="#0a4478" opacity="0.8"/>
<line x1="193.03" y1="284.15" x2="193.03" y2="283.32" stroke="#3a3a3a" stroke-width="0.9"/>
<line x1="191.73" y1="283.32" x2="194.33" y2="283.32" stroke="#3a3a3a" stroke-width="0.95"/>
<line x1="188.48" y1="303.4" x2="188.48" y2="305.9" stroke="#333333" stroke-width="1.25"/>
<polyline points="183.9,277.4 183.9,273.1 193.8,273.1 193.8,277" fill="none" stroke="#3c3c3c" stroke-width="0.9"/>
<text x="188.85" y="270.7" font-size="7.4" text-anchor="middle" fill="#333" stroke="#333" stroke-width="0.12">ns</text>
<text x="192.98" y="312.1" font-size="8" text-anchor="end" stroke="#222222" stroke-width="0.22" transform="rotate(-45 192.98 312.1)">Succinate</text>
<rect x="202.06" y="287.05" width="4.9" height="16.35" fill="#c8203a"/>
<rect x="202.06" y="287.05" width="0.6" height="16.35" fill="#b5102a" opacity="0.8"/>
<rect x="206.36" y="287.05" width="0.6" height="16.35" fill="#b5102a" opacity="0.8"/>
<line x1="204.51" y1="287.05" x2="204.51" y2="286.63" stroke="#3a3a3a" stroke-width="0.9"/>
<line x1="203.21" y1="286.63" x2="205.81" y2="286.63" stroke="#3a3a3a" stroke-width="0.95"/>
<rect x="211.16" y="285.8" width="4.9" height="17.6" fill="#115086"/>
<rect x="211.16" y="285.8" width="0.6" height="17.6" fill="#0a4478" opacity="0.8"/>
<rect x="215.46" y="285.8" width="0.6" height="17.6" fill="#0a4478" opacity="0.8"/>
<line x1="213.61" y1="285.8" x2="213.61" y2="285.39" stroke="#3a3a3a" stroke-width="0.9"/>
<line x1="212.31" y1="285.39" x2="214.91" y2="285.39" stroke="#3a3a3a" stroke-width="0.95"/>
<line x1="209.06" y1="303.4" x2="209.06" y2="305.9" stroke="#333333" stroke-width="1.25"/>
<polyline points="204.4,281.7 204.4,277.2 214.1,277.2 214.1,281.7" fill="none" stroke="#3c3c3c" stroke-width="0.9"/>
<text x="209.25" y="274.6" font-size="7.4" text-anchor="middle" fill="#333" stroke="#333" stroke-width="0.12">ns</text>
<text x="213.56" y="312.1" font-size="8" text-anchor="end" stroke="#222222" stroke-width="0.22" transform="rotate(-45 213.56 312.1)">Fumarate</text>
<rect x="222.64" y="277.32" width="4.9" height="26.08" fill="#c8203a"/>
<rect x="222.64" y="277.32" width="0.6" height="26.08" fill="#b5102a" opacity="0.8"/>
<rect x="226.94" y="277.32" width="0.6" height="26.08" fill="#b5102a" opacity="0.8"/>
<line x1="225.09" y1="277.32" x2="225.09" y2="276.9" stroke="#3a3a3a" stroke-width="0.9"/>
<line x1="223.79" y1="276.9" x2="226.39" y2="276.9" stroke="#3a3a3a" stroke-width="0.95"/>
<rect x="231.74" y="277.32" width="4.9" height="26.08" fill="#115086"/>
<rect x="231.74" y="277.32" width="0.6" height="26.08" fill="#0a4478" opacity="0.8"/>
<rect x="236.04" y="277.32" width="0.6" height="26.08" fill="#0a4478" opacity="0.8"/>
<line x1="234.19" y1="277.32" x2="234.19" y2="276.9" stroke="#3a3a3a" stroke-width="0.9"/>
<line x1="232.89" y1="276.9" x2="235.49" y2="276.9" stroke="#3a3a3a" stroke-width="0.95"/>
<line x1="229.64" y1="303.4" x2="229.64" y2="305.9" stroke="#333333" stroke-width="1.25"/>
<polyline points="224.8,273.7 224.8,269.4 234.6,269.4 234.6,273.7" fill="none" stroke="#3c3c3c" stroke-width="0.9"/>
<text x="229.7" y="266.8" font-size="7.4" text-anchor="middle" fill="#333" stroke="#333" stroke-width="0.12">ns</text>
<text x="234.14" y="312.1" font-size="8" text-anchor="end" stroke="#222222" stroke-width="0.22" transform="rotate(-45 234.14 312.1)">Malate</text>
<rect x="243.22" y="281.87" width="4.9" height="21.53" fill="#c8203a"/>
<rect x="243.22" y="281.87" width="0.6" height="21.53" fill="#b5102a" opacity="0.8"/>
<rect x="247.52" y="281.87" width="0.6" height="21.53" fill="#b5102a" opacity="0.8"/>
<line x1="245.67" y1="281.87" x2="245.67" y2="281.46" stroke="#3a3a3a" stroke-width="0.9"/>
<line x1="244.37" y1="281.46" x2="246.97" y2="281.46" stroke="#3a3a3a" stroke-width="0.95"/>
<rect x="252.32" y="280.22" width="4.9" height="23.18" fill="#115086"/>
<rect x="252.32" y="280.22" width="0.6" height="23.18" fill="#0a4478" opacity="0.8"/>
<rect x="256.62" y="280.22" width="0.6" height="23.18" fill="#0a4478" opacity="0.8"/>
<line x1="254.77" y1="280.22" x2="254.77" y2="279.8" stroke="#3a3a3a" stroke-width="0.9"/>
<line x1="253.47" y1="279.8" x2="256.07" y2="279.8" stroke="#3a3a3a" stroke-width="0.95"/>
<line x1="250.22" y1="303.4" x2="250.22" y2="305.9" stroke="#333333" stroke-width="1.25"/>
<polyline points="245.3,272.7 245.3,268.8 255.3,268.8 255.3,272.7" fill="none" stroke="#3c3c3c" stroke-width="0.9"/>
<circle cx="250.3" cy="265.4" r="1.0" fill="#383838"/>
<text x="254.72" y="312.1" font-size="8" text-anchor="end" stroke="#222222" stroke-width="0.22" transform="rotate(-45 254.72 312.1)">Glycine</text>
<rect x="208" y="212.7" width="8.8" height="4.6" fill="#c8203a"/>
<text x="220.2" y="217.2" font-size="7.6" stroke="#222222" stroke-width="0.22" textLength="24.6" lengthAdjust="spacingAndGlyphs">Control</text>
<rect x="208" y="221.2" width="8.8" height="4.7" fill="#115086"/>
<text x="220.2" y="225.9" font-size="7.6" stroke="#222222" stroke-width="0.22" textLength="14" lengthAdjust="spacingAndGlyphs">KO1</text>
<text x="19.4" y="252" font-size="8.6" text-anchor="middle" stroke="#222222" stroke-width="0.1" transform="rotate(-90 19.4 252)" textLength="72.6" lengthAdjust="spacingAndGlyphs">Fractional enrichment</text>
<text x="31.2" y="252" font-size="8.6" text-anchor="middle" stroke="#222222" stroke-width="0.1" transform="rotate(-90 31.2 252)" textLength="82.8" lengthAdjust="spacingAndGlyphs">normalized to total count</text>
<text x="289.3" y="195.7" font-size="12" font-weight="bold" fill="#111111">O</text>
<line x1="335" y1="212.35" x2="335" y2="316.2" stroke="#333333" stroke-width="1.25"/>
<line x1="331.8" y1="315.7" x2="335" y2="315.7" stroke="#333333" stroke-width="1.25"/>
<text x="329.1" y="318.14" font-size="8.3" text-anchor="end" stroke="#222222" stroke-width="0.08" textLength="4.4" lengthAdjust="spacingAndGlyphs">0</text>
<line x1="331.8" y1="281.25" x2="335" y2="281.25" stroke="#333333" stroke-width="1.25"/>
<text x="329.1" y="283.69" font-size="8.3" text-anchor="end" stroke="#222222" stroke-width="0.08" textLength="4.4" lengthAdjust="spacingAndGlyphs">5</text>
<line x1="331.8" y1="246.8" x2="335" y2="246.8" stroke="#333333" stroke-width="1.25"/>
<text x="329.1" y="249.24" font-size="8.3" text-anchor="end" stroke="#222222" stroke-width="0.08" textLength="8" lengthAdjust="spacingAndGlyphs">10</text>
<line x1="331.8" y1="212.35" x2="335" y2="212.35" stroke="#333333" stroke-width="1.25"/>
<text x="329.1" y="214.79" font-size="8.3" text-anchor="end" stroke="#222222" stroke-width="0.08" textLength="7.7" lengthAdjust="spacingAndGlyphs">15</text>
<line x1="335" y1="315.7" x2="412.6" y2="315.7" stroke="#333333" stroke-width="1.25"/>
<rect x="341.8" y="243.42" width="9.3" height="72.28" fill="#c8203a"/>
<rect x="341.8" y="243.42" width="0.6" height="72.28" fill="#b5102a" opacity="0.8"/>
<rect x="350.5" y="243.42" width="0.6" height="72.28" fill="#b5102a" opacity="0.8"/>
<line x1="346.45" y1="243.42" x2="346.45" y2="240.53" stroke="#3a3a3a" stroke-width="0.9"/>
<line x1="344.2" y1="240.53" x2="348.7" y2="240.53" stroke="#3a3a3a" stroke-width="0.95"/>
<rect x="356.3" y="240.81" width="9.5" height="74.89" fill="#115086"/>
<rect x="356.3" y="240.81" width="0.6" height="74.89" fill="#0a4478" opacity="0.8"/>
<rect x="365.2" y="240.81" width="0.6" height="74.89" fill="#0a4478" opacity="0.8"/>
<line x1="361.05" y1="240.81" x2="361.05" y2="238.67" stroke="#3a3a3a" stroke-width="0.9"/>
<line x1="358.8" y1="238.67" x2="363.3" y2="238.67" stroke="#3a3a3a" stroke-width="0.95"/>
<rect x="382.3" y="274.57" width="9.3" height="41.13" fill="#c8203a"/>
<rect x="382.3" y="274.57" width="0.6" height="41.13" fill="#b5102a" opacity="0.8"/>
<rect x="391" y="274.57" width="0.6" height="41.13" fill="#b5102a" opacity="0.8"/>
<line x1="386.95" y1="274.57" x2="386.95" y2="271.33" stroke="#3a3a3a" stroke-width="0.9"/>
<line x1="384.7" y1="271.33" x2="389.2" y2="271.33" stroke="#3a3a3a" stroke-width="0.95"/>
<rect x="397" y="263.2" width="9.2" height="52.5" fill="#115086"/>
<rect x="397" y="263.2" width="0.6" height="52.5" fill="#0a4478" opacity="0.8"/>
<rect x="405.6" y="263.2" width="0.6" height="52.5" fill="#0a4478" opacity="0.8"/>
<line x1="401.6" y1="263.2" x2="401.6" y2="259.68" stroke="#3a3a3a" stroke-width="0.9"/>
<line x1="399.35" y1="259.68" x2="403.85" y2="259.68" stroke="#3a3a3a" stroke-width="0.95"/>
<line x1="353.9" y1="315.7" x2="353.9" y2="318.2" stroke="#333333" stroke-width="1.25"/>
<line x1="394" y1="315.7" x2="394" y2="318.2" stroke="#333333" stroke-width="1.25"/>
<text x="353.9" y="327.7" font-size="8.4" text-anchor="middle" stroke="#222222" stroke-width="0.22" textLength="27" lengthAdjust="spacingAndGlyphs">Control</text>
<text x="393.7" y="327.7" font-size="8.4" text-anchor="middle" stroke="#222222" stroke-width="0.22" textLength="15.6" lengthAdjust="spacingAndGlyphs">KO1</text>
<polyline points="346.1,230.1 346.1,221.1 387.6,221.1 387.6,223.7" fill="none" stroke="#3c3c3c" stroke-width="0.9"/>
<circle cx="364.75" cy="217.8" r="1.0" fill="#383838"/>
<circle cx="368.25" cy="217.8" r="1.0" fill="#383838"/>
<polyline points="360.3,234.4 360.3,231.3 401.5,231.3 401.5,245.3" fill="none" stroke="#3c3c3c" stroke-width="0.9"/>
<circle cx="382" cy="228.1" r="1.0" fill="#383838"/>
<polyline points="386.2,265.6 386.2,250.3 401.5,250.3 401.5,255.5" fill="none" stroke="#3c3c3c" stroke-width="0.9"/>
<circle cx="394" cy="247.2" r="1.0" fill="#383838"/>
<rect x="315.3" y="191.8" width="10.8" height="5.4" fill="#c8203a"/>
<text x="329.3" y="197.1" font-size="8" stroke="#222222" stroke-width="0.22" textLength="23.5" lengthAdjust="spacingAndGlyphs">Vehicle</text>
<rect x="362.1" y="191.8" width="10.7" height="5.4" fill="#115086"/>
<text x="376.7" y="197.1" font-size="8" stroke="#222222" stroke-width="0.22" textLength="35.8" lengthAdjust="spacingAndGlyphs">10µM NAD</text>
<text x="413" y="194.1" font-size="4.8" stroke="#222222" stroke-width="0.22">+</text>
<text x="315.8" y="284.4" font-size="9.2" stroke="#222222" stroke-width="0.22" transform="rotate(-90 315.8 284.4)" textLength="13.7" lengthAdjust="spacingAndGlyphs">NAD</text>
<text x="312.9" y="270.2" font-size="6.2" stroke="#222222" stroke-width="0.22" transform="rotate(-90 312.9 270.2)">+</text>
<text x="315.8" y="266.3" font-size="9.2" stroke="#222222" stroke-width="0.22" transform="rotate(-90 315.8 266.3)" textLength="23.6" lengthAdjust="spacingAndGlyphs">/NADH</text>
<text x="7.1" y="356.3" font-size="12" font-weight="bold" fill="#111111">P</text>
<line x1="42.2" y1="379.8" x2="42.2" y2="484.4" stroke="#333333" stroke-width="1.25"/>
<line x1="39" y1="483.9" x2="42.2" y2="483.9" stroke="#333333" stroke-width="1.25"/>
<text x="35" y="486.3" font-size="8.2" text-anchor="end" stroke="#222222" stroke-width="0.08" textLength="10.7" lengthAdjust="spacingAndGlyphs">0.0</text>
<line x1="39" y1="449.2" x2="42.2" y2="449.2" stroke="#333333" stroke-width="1.25"/>
<text x="35" y="451.6" font-size="8.2" text-anchor="end" stroke="#222222" stroke-width="0.08" textLength="10.7" lengthAdjust="spacingAndGlyphs">0.5</text>
<line x1="39" y1="414.5" x2="42.2" y2="414.5" stroke="#333333" stroke-width="1.25"/>
<text x="35" y="416.9" font-size="8.2" text-anchor="end" stroke="#222222" stroke-width="0.08" textLength="9.8" lengthAdjust="spacingAndGlyphs">1.0</text>
<line x1="39" y1="379.8" x2="42.2" y2="379.8" stroke="#333333" stroke-width="1.25"/>
<text x="35" y="382.2" font-size="8.2" text-anchor="end" stroke="#222222" stroke-width="0.08" textLength="9.7" lengthAdjust="spacingAndGlyphs">1.5</text>
<line x1="42.2" y1="483.9" x2="119.4" y2="483.9" stroke="#333333" stroke-width="1.25"/>
<rect x="46.9" y="415.19" width="10.1" height="68.71" fill="#c8203a"/>
<rect x="46.9" y="415.19" width="0.6" height="68.71" fill="#b5102a" opacity="0.8"/>
<rect x="56.4" y="415.19" width="0.6" height="68.71" fill="#b5102a" opacity="0.8"/>
<line x1="51.95" y1="415.19" x2="51.95" y2="407.56" stroke="#3a3a3a" stroke-width="0.9"/>
<line x1="49.45" y1="407.56" x2="54.45" y2="407.56" stroke="#3a3a3a" stroke-width="0.95"/>
<rect x="62.2" y="402.7" width="10.3" height="81.2" fill="#115086"/>
<rect x="62.2" y="402.7" width="0.6" height="81.2" fill="#0a4478" opacity="0.8"/>
<rect x="71.9" y="402.7" width="0.6" height="81.2" fill="#0a4478" opacity="0.8"/>
<line x1="67.35" y1="402.7" x2="67.35" y2="396.46" stroke="#3a3a3a" stroke-width="0.9"/>
<line x1="64.85" y1="396.46" x2="69.85" y2="396.46" stroke="#3a3a3a" stroke-width="0.95"/>
<rect x="89.8" y="434.28" width="10.2" height="49.62" fill="#c8203a"/>
<rect x="89.8" y="434.28" width="0.6" height="49.62" fill="#b5102a" opacity="0.8"/>
<rect x="99.4" y="434.28" width="0.6" height="49.62" fill="#b5102a" opacity="0.8"/>
<line x1="94.9" y1="434.28" x2="94.9" y2="431.16" stroke="#3a3a3a" stroke-width="0.9"/>
<line x1="92.4" y1="431.16" x2="97.4" y2="431.16" stroke="#3a3a3a" stroke-width="0.95"/>
<rect x="105.2" y="424.56" width="10.4" height="59.34" fill="#115086"/>
<rect x="105.2" y="424.56" width="0.6" height="59.34" fill="#0a4478" opacity="0.8"/>
<rect x="115" y="424.56" width="0.6" height="59.34" fill="#0a4478" opacity="0.8"/>
<line x1="110.4" y1="424.56" x2="110.4" y2="421.44" stroke="#3a3a3a" stroke-width="0.9"/>
<line x1="107.9" y1="421.44" x2="112.9" y2="421.44" stroke="#3a3a3a" stroke-width="0.95"/>
<line x1="59.6" y1="483.9" x2="59.6" y2="486.4" stroke="#333333" stroke-width="1.25"/>
<line x1="102.6" y1="483.9" x2="102.6" y2="486.4" stroke="#333333" stroke-width="1.25"/>
<text x="59.6" y="496.2" font-size="8.6" text-anchor="middle" stroke="#222222" stroke-width="0.22" textLength="26.5" lengthAdjust="spacingAndGlyphs">Control</text>
<text x="102.5" y="496.2" font-size="8.6" text-anchor="middle" stroke="#222222" stroke-width="0.22" textLength="16" lengthAdjust="spacingAndGlyphs">KO1</text>
<polyline points="51.6,401.2 51.6,389 67.3,389 67.3,393.4" fill="none" stroke="#3c3c3c" stroke-width="0.9"/>
<circle cx="59.4" cy="385.9" r="1.0" fill="#383838"/>
<polyline points="67.3,384.7 67.3,380.7 110.4,380.7 110.4,393.7" fill="none" stroke="#3c3c3c" stroke-width="0.9"/>
<circle cx="89.7" cy="377.6" r="1.0" fill="#383838"/>
<polyline points="94.7,416.4 94.7,401.2 110.4,401.2 110.4,405.5" fill="none" stroke="#3c3c3c" stroke-width="0.9"/>
<circle cx="100.95" cy="397.6" r="1.0" fill="#383838"/>
<circle cx="104.45" cy="397.6" r="1.0" fill="#383838"/>
<rect x="18.8" y="359.7" width="10.8" height="5.4" fill="#c8203a"/>
<text x="33.8" y="365.1" font-size="8" stroke="#222222" stroke-width="0.22" textLength="24" lengthAdjust="spacingAndGlyphs">Vehicle</text>
<rect x="66.1" y="359.8" width="10.7" height="5.4" fill="#115086"/>
<text x="80.8" y="365.1" font-size="8" stroke="#222222" stroke-width="0.22" textLength="36.4" lengthAdjust="spacingAndGlyphs">10µM NAD</text>
<text x="117.7" y="362.1" font-size="4.8" stroke="#222222" stroke-width="0.22">+</text>
<text x="19" y="431.5" font-size="8.6" text-anchor="middle" stroke="#222222" stroke-width="0.22" transform="rotate(-90 19 431.5)" textLength="113.7" lengthAdjust="spacingAndGlyphs">Cell number normalized to control</text>
<text x="133.6" y="356.3" font-size="12" font-weight="bold" fill="#111111">Q</text>
<line x1="162.9" y1="384.7" x2="162.9" y2="480" stroke="#333333" stroke-width="1.25"/>
<line x1="159.7" y1="479.5" x2="162.9" y2="479.5" stroke="#333333" stroke-width="1.25"/>
<text x="156.6" y="481.94" font-size="8.3" text-anchor="end" stroke="#222222" stroke-width="0.08" textLength="10.6" lengthAdjust="spacingAndGlyphs">7.2</text>
<line x1="159.7" y1="455.8" x2="162.9" y2="455.8" stroke="#333333" stroke-width="1.25"/>
<text x="156.6" y="458.24" font-size="8.3" text-anchor="end" stroke="#222222" stroke-width="0.08" textLength="10.6" lengthAdjust="spacingAndGlyphs">7.4</text>
<line x1="159.7" y1="432.1" x2="162.9" y2="432.1" stroke="#333333" stroke-width="1.25"/>
<text x="156.6" y="434.54" font-size="8.3" text-anchor="end" stroke="#222222" stroke-width="0.08" textLength="10.6" lengthAdjust="spacingAndGlyphs">7.6</text>
<line x1="159.7" y1="408.4" x2="162.9" y2="408.4" stroke="#333333" stroke-width="1.25"/>
<text x="156.6" y="410.84" font-size="8.3" text-anchor="end" stroke="#222222" stroke-width="0.08" textLength="10.6" lengthAdjust="spacingAndGlyphs">7.8</text>
<line x1="159.7" y1="384.7" x2="162.9" y2="384.7" stroke="#333333" stroke-width="1.25"/>
<text x="156.6" y="387.14" font-size="8.3" text-anchor="end" stroke="#222222" stroke-width="0.08" textLength="10.6" lengthAdjust="spacingAndGlyphs">8.0</text>
<line x1="162.9" y1="479.5" x2="233.8" y2="479.5" stroke="#333333" stroke-width="1.25"/>
<rect x="167.1" y="419.66" width="10.6" height="59.84" fill="#c8203a"/>
<rect x="167.1" y="419.66" width="0.6" height="59.84" fill="#b5102a" opacity="0.8"/>
<rect x="177.1" y="419.66" width="0.6" height="59.84" fill="#b5102a" opacity="0.8"/>
<line x1="172.4" y1="419.66" x2="172.4" y2="414.09" stroke="#3a3a3a" stroke-width="0.9"/>
<line x1="169.9" y1="414.09" x2="174.9" y2="414.09" stroke="#3a3a3a" stroke-width="0.95"/>
<rect x="182.9" y="441.58" width="10.1" height="37.92" fill="#115086"/>
<rect x="182.9" y="441.58" width="0.6" height="37.92" fill="#0a4478" opacity="0.8"/>
<rect x="192.4" y="441.58" width="0.6" height="37.92" fill="#0a4478" opacity="0.8"/>
<line x1="187.95" y1="441.58" x2="187.95" y2="434.83" stroke="#3a3a3a" stroke-width="0.9"/>
<line x1="185.45" y1="434.83" x2="190.45" y2="434.83" stroke="#3a3a3a" stroke-width="0.95"/>
<rect x="204.3" y="411.96" width="10.2" height="67.54" fill="#c8203a"/>
<rect x="204.3" y="411.96" width="0.6" height="67.54" fill="#b5102a" opacity="0.8"/>
<rect x="213.9" y="411.96" width="0.6" height="67.54" fill="#b5102a" opacity="0.8"/>
<line x1="209.4" y1="411.96" x2="209.4" y2="407.81" stroke="#3a3a3a" stroke-width="0.9"/>
<line x1="206.9" y1="407.81" x2="211.9" y2="407.81" stroke="#3a3a3a" stroke-width="0.95"/>
<rect x="219.5" y="432.1" width="10.3" height="47.4" fill="#115086"/>
<rect x="219.5" y="432.1" width="0.6" height="47.4" fill="#0a4478" opacity="0.8"/>
<rect x="229.2" y="432.1" width="0.6" height="47.4" fill="#0a4478" opacity="0.8"/>
<line x1="224.65" y1="432.1" x2="224.65" y2="423.57" stroke="#3a3a3a" stroke-width="0.9"/>
<line x1="222.15" y1="423.57" x2="227.15" y2="423.57" stroke="#3a3a3a" stroke-width="0.95"/>
<line x1="180" y1="479.5" x2="180" y2="482" stroke="#333333" stroke-width="1.25"/>
<line x1="217" y1="479.5" x2="217" y2="482" stroke="#333333" stroke-width="1.25"/>
<text x="180.2" y="491.7" font-size="8.6" text-anchor="middle" stroke="#222222" stroke-width="0.22" textLength="32.8" lengthAdjust="spacingAndGlyphs">NOMO-1</text>
<text x="216.6" y="491.7" font-size="8.6" text-anchor="middle" stroke="#222222" stroke-width="0.22" textLength="26.9" lengthAdjust="spacingAndGlyphs">MV4-11</text>
<polyline points="171.2,408.4 171.2,401.6 186.7,401.6 186.7,421.3" fill="none" stroke="#3c3c3c" stroke-width="0.9"/>
<circle cx="179" cy="398.5" r="1.0" fill="#383838"/>
<polyline points="210.7,404.3 210.7,397.6 226.5,397.6 226.5,419" fill="none" stroke="#3c3c3c" stroke-width="0.9"/>
<circle cx="222.3" cy="394.4" r="1.0" fill="#383838"/>
<rect x="148.8" y="360.1" width="10" height="4.8" fill="#c8203a"/>
<text x="162" y="364.9" font-size="8" stroke="#222222" stroke-width="0.22" textLength="24" lengthAdjust="spacingAndGlyphs">Vehicle</text>
<rect x="198" y="360.1" width="9.8" height="4.8" fill="#115086"/>
<text x="210.8" y="364.9" font-size="8" stroke="#222222" stroke-width="0.22" textLength="17.6" lengthAdjust="spacingAndGlyphs">HMA</text>
<text x="138.5" y="431.8" font-size="8.1" text-anchor="middle" stroke="#222222" stroke-width="0.22" transform="rotate(-90 138.5 431.8)">pHi</text>
<text x="246.4" y="356.3" font-size="12" font-weight="bold" fill="#111111">R</text>
<line x1="275" y1="383.4" x2="275" y2="479" stroke="#333333" stroke-width="1.25"/>
<line x1="271.8" y1="478.5" x2="275" y2="478.5" stroke="#333333" stroke-width="1.25"/>
<text x="268.6" y="480.83" font-size="8" text-anchor="end" stroke="#222222" stroke-width="0.08" textLength="4.4" lengthAdjust="spacingAndGlyphs">0</text>
<line x1="271.8" y1="446.8" x2="275" y2="446.8" stroke="#333333" stroke-width="1.25"/>
<text x="268.6" y="449.13" font-size="8" text-anchor="end" stroke="#222222" stroke-width="0.08" textLength="8.5" lengthAdjust="spacingAndGlyphs">20</text>
<line x1="271.8" y1="415.1" x2="275" y2="415.1" stroke="#333333" stroke-width="1.25"/>
<text x="268.6" y="417.43" font-size="8" text-anchor="end" stroke="#222222" stroke-width="0.08" textLength="8.5" lengthAdjust="spacingAndGlyphs">40</text>
<line x1="271.8" y1="383.4" x2="275" y2="383.4" stroke="#333333" stroke-width="1.25"/>
<text x="268.6" y="385.73" font-size="8" text-anchor="end" stroke="#222222" stroke-width="0.08" textLength="8.5" lengthAdjust="spacingAndGlyphs">60</text>
<line x1="275" y1="478.5" x2="346" y2="478.5" stroke="#333333" stroke-width="1.25"/>
<rect x="278.9" y="400.04" width="10.6" height="78.46" fill="#c8203a"/>
<rect x="278.9" y="400.04" width="0.6" height="78.46" fill="#b5102a" opacity="0.8"/>
<rect x="288.9" y="400.04" width="0.6" height="78.46" fill="#b5102a" opacity="0.8"/>
<line x1="284.2" y1="400.04" x2="284.2" y2="396.87" stroke="#3a3a3a" stroke-width="0.9"/>
<line x1="281.7" y1="396.87" x2="286.7" y2="396.87" stroke="#3a3a3a" stroke-width="0.95"/>
<rect x="294.7" y="419.86" width="10.6" height="58.64" fill="#115086"/>
<rect x="294.7" y="419.86" width="0.6" height="58.64" fill="#0a4478" opacity="0.8"/>
<rect x="304.7" y="419.86" width="0.6" height="58.64" fill="#0a4478" opacity="0.8"/>
<line x1="300" y1="419.86" x2="300" y2="414.15" stroke="#3a3a3a" stroke-width="0.9"/>
<line x1="297.5" y1="414.15" x2="302.5" y2="414.15" stroke="#3a3a3a" stroke-width="0.95"/>
<rect x="315.9" y="408.13" width="10.6" height="70.37" fill="#c8203a"/>
<rect x="315.9" y="408.13" width="0.6" height="70.37" fill="#b5102a" opacity="0.8"/>
<rect x="325.9" y="408.13" width="0.6" height="70.37" fill="#b5102a" opacity="0.8"/>
<line x1="321.2" y1="408.13" x2="321.2" y2="404.64" stroke="#3a3a3a" stroke-width="0.9"/>
<line x1="318.7" y1="404.64" x2="323.7" y2="404.64" stroke="#3a3a3a" stroke-width="0.95"/>
<rect x="331.6" y="421.76" width="10.6" height="56.74" fill="#115086"/>
<rect x="331.6" y="421.76" width="0.6" height="56.74" fill="#0a4478" opacity="0.8"/>
<rect x="341.6" y="421.76" width="0.6" height="56.74" fill="#0a4478" opacity="0.8"/>
<line x1="336.9" y1="421.76" x2="336.9" y2="419.38" stroke="#3a3a3a" stroke-width="0.9"/>
<line x1="334.4" y1="419.38" x2="339.4" y2="419.38" stroke="#3a3a3a" stroke-width="0.95"/>
<line x1="292.1" y1="478.5" x2="292.1" y2="481" stroke="#333333" stroke-width="1.25"/>
<line x1="329" y1="478.5" x2="329" y2="481" stroke="#333333" stroke-width="1.25"/>
<text x="292.2" y="491.3" font-size="8.6" text-anchor="middle" stroke="#222222" stroke-width="0.22" textLength="32.7" lengthAdjust="spacingAndGlyphs">NOMO-1</text>
<text x="328.7" y="491.3" font-size="8.6" text-anchor="middle" stroke="#222222" stroke-width="0.22" textLength="26.6" lengthAdjust="spacingAndGlyphs">MV4-11</text>
<polyline points="283.4,391.2 283.4,384.1 298.2,384.1 298.2,405.3" fill="none" stroke="#3c3c3c" stroke-width="0.9"/>
<circle cx="293.8" cy="380.8" r="1.0" fill="#383838"/>
<polyline points="322.2,400.1 322.2,392.8 337.5,392.8 337.5,412.4" fill="none" stroke="#3c3c3c" stroke-width="0.9"/>
<circle cx="333.1" cy="389.3" r="1.0" fill="#383838"/>
<rect x="262.3" y="360.1" width="10" height="4.8" fill="#c8203a"/>
<text x="275.2" y="364.9" font-size="8" stroke="#222222" stroke-width="0.22" textLength="24.2" lengthAdjust="spacingAndGlyphs">Vehicle</text>
<rect x="311.4" y="360.1" width="9.9" height="4.8" fill="#115086"/>
<text x="324.6" y="364.9" font-size="8" stroke="#222222" stroke-width="0.22" textLength="17.2" lengthAdjust="spacingAndGlyphs">HMA</text>
<text x="253.3" y="431.6" font-size="8.6" text-anchor="middle" stroke="#222222" stroke-width="0.22" transform="rotate(-90 253.3 431.6)" textLength="70" lengthAdjust="spacingAndGlyphs">Glucose uptake (MFI)</text>
<text x="358.3" y="356.3" font-size="12" font-weight="bold" fill="#111111">S</text>
<line x1="393.8" y1="372.1" x2="393.8" y2="467.2" stroke="#333333" stroke-width="1.25"/>
<line x1="390.6" y1="466.7" x2="393.8" y2="466.7" stroke="#333333" stroke-width="1.25"/>
<text x="387.9" y="469.03" font-size="8" text-anchor="end" stroke="#222222" stroke-width="0.08" textLength="10.6" lengthAdjust="spacingAndGlyphs">0.0</text>
<line x1="390.6" y1="447.78" x2="393.8" y2="447.78" stroke="#333333" stroke-width="1.25"/>
<text x="387.9" y="450.11" font-size="8" text-anchor="end" stroke="#222222" stroke-width="0.08" textLength="10.6" lengthAdjust="spacingAndGlyphs">0.2</text>
<line x1="390.6" y1="428.86" x2="393.8" y2="428.86" stroke="#333333" stroke-width="1.25"/>
<text x="387.9" y="431.19" font-size="8" text-anchor="end" stroke="#222222" stroke-width="0.08" textLength="10.6" lengthAdjust="spacingAndGlyphs">0.4</text>
<line x1="390.6" y1="409.94" x2="393.8" y2="409.94" stroke="#333333" stroke-width="1.25"/>
<text x="387.9" y="412.27" font-size="8" text-anchor="end" stroke="#222222" stroke-width="0.08" textLength="10.6" lengthAdjust="spacingAndGlyphs">0.6</text>
<line x1="390.6" y1="391.02" x2="393.8" y2="391.02" stroke="#333333" stroke-width="1.25"/>
<text x="387.9" y="393.35" font-size="8" text-anchor="end" stroke="#222222" stroke-width="0.08" textLength="10.6" lengthAdjust="spacingAndGlyphs">0.8</text>
<line x1="390.6" y1="372.1" x2="393.8" y2="372.1" stroke="#333333" stroke-width="1.25"/>
<text x="387.9" y="374.43" font-size="8" text-anchor="end" stroke="#222222" stroke-width="0.08" textLength="10.5" lengthAdjust="spacingAndGlyphs">1.0</text>
<line x1="393.8" y1="466.7" x2="512.5" y2="466.7" stroke="#333333" stroke-width="1.25"/>
<rect x="397.95" y="405.21" width="9" height="61.49" fill="#c8203a"/>
<rect x="397.95" y="405.21" width="0.6" height="61.49" fill="#b5102a" opacity="0.8"/>
<rect x="406.35" y="405.21" width="0.6" height="61.49" fill="#b5102a" opacity="0.8"/>
<line x1="402.45" y1="405.21" x2="402.45" y2="401.05" stroke="#3a3a3a" stroke-width="0.9"/>
<line x1="400.25" y1="401.05" x2="404.65" y2="401.05" stroke="#3a3a3a" stroke-width="0.95"/>
<line x1="402.45" y1="466.7" x2="402.45" y2="469.2" stroke="#333333" stroke-width="1.25"/>
<text x="406.85" y="475.6" font-size="8.2" text-anchor="end" stroke="#222222" stroke-width="0.22" transform="rotate(-45 406.85 475.6)">Veh</text>
<rect x="411.85" y="395.75" width="9" height="70.95" fill="#115086"/>
<rect x="411.85" y="395.75" width="0.6" height="70.95" fill="#0a4478" opacity="0.8"/>
<rect x="420.25" y="395.75" width="0.6" height="70.95" fill="#0a4478" opacity="0.8"/>
<line x1="416.35" y1="395.75" x2="416.35" y2="392.91" stroke="#3a3a3a" stroke-width="0.9"/>
<line x1="414.15" y1="392.91" x2="418.55" y2="392.91" stroke="#3a3a3a" stroke-width="0.95"/>
<line x1="416.35" y1="466.7" x2="416.35" y2="469.2" stroke="#333333" stroke-width="1.25"/>
<text x="420.75" y="475.6" font-size="8.2" text-anchor="end" stroke="#222222" stroke-width="0.22" transform="rotate(-45 420.75 475.6)">R</text>
<rect x="425.5" y="399.53" width="9" height="67.17" fill="#41b250"/>
<rect x="425.5" y="399.53" width="0.6" height="67.17" fill="#2fa040" opacity="0.8"/>
<rect x="433.9" y="399.53" width="0.6" height="67.17" fill="#2fa040" opacity="0.8"/>
<line x1="430" y1="399.53" x2="430" y2="395.28" stroke="#3a3a3a" stroke-width="0.9"/>
<line x1="427.8" y1="395.28" x2="432.2" y2="395.28" stroke="#3a3a3a" stroke-width="0.95"/>
<line x1="430" y1="466.7" x2="430" y2="469.2" stroke="#333333" stroke-width="1.25"/>
<text x="434.4" y="475.6" font-size="8.2" text-anchor="end" stroke="#222222" stroke-width="0.22" transform="rotate(-45 434.4 475.6)">P</text>
<rect x="439.2" y="386.95" width="9" height="79.75" fill="#5c286e"/>
<rect x="439.2" y="386.95" width="0.6" height="79.75" fill="#4c1a5e" opacity="0.8"/>
<rect x="447.6" y="386.95" width="0.6" height="79.75" fill="#4c1a5e" opacity="0.8"/>
<line x1="443.7" y1="386.95" x2="443.7" y2="383.93" stroke="#3a3a3a" stroke-width="0.9"/>
<line x1="441.5" y1="383.93" x2="445.9" y2="383.93" stroke="#3a3a3a" stroke-width="0.95"/>
<line x1="443.7" y1="466.7" x2="443.7" y2="469.2" stroke="#333333" stroke-width="1.25"/>
<text x="448.1" y="475.6" font-size="8.2" text-anchor="end" stroke="#222222" stroke-width="0.22" transform="rotate(-45 448.1 475.6)">R + P</text>
<rect x="458.2" y="407.39" width="9" height="59.31" fill="#c8203a"/>
<rect x="458.2" y="407.39" width="0.6" height="59.31" fill="#b5102a" opacity="0.8"/>
<rect x="466.6" y="407.39" width="0.6" height="59.31" fill="#b5102a" opacity="0.8"/>
<line x1="462.7" y1="407.39" x2="462.7" y2="405.4" stroke="#3a3a3a" stroke-width="0.9"/>
<line x1="460.5" y1="405.4" x2="464.9" y2="405.4" stroke="#3a3a3a" stroke-width="0.95"/>
<line x1="462.7" y1="466.7" x2="462.7" y2="469.2" stroke="#333333" stroke-width="1.25"/>
<text x="467.1" y="475.6" font-size="8.2" text-anchor="end" stroke="#222222" stroke-width="0.22" transform="rotate(-45 467.1 475.6)">Veh</text>
<rect x="471.9" y="405.87" width="9" height="60.83" fill="#115086"/>
<rect x="471.9" y="405.87" width="0.6" height="60.83" fill="#0a4478" opacity="0.8"/>
<rect x="480.3" y="405.87" width="0.6" height="60.83" fill="#0a4478" opacity="0.8"/>
<line x1="476.4" y1="405.87" x2="476.4" y2="401.14" stroke="#3a3a3a" stroke-width="0.9"/>
<line x1="474.2" y1="401.14" x2="478.6" y2="401.14" stroke="#3a3a3a" stroke-width="0.95"/>
<line x1="476.4" y1="466.7" x2="476.4" y2="469.2" stroke="#333333" stroke-width="1.25"/>
<text x="480.8" y="475.6" font-size="8.2" text-anchor="end" stroke="#222222" stroke-width="0.22" transform="rotate(-45 480.8 475.6)">R</text>
<rect x="485.65" y="400.48" width="9" height="66.22" fill="#41b250"/>
<rect x="485.65" y="400.48" width="0.6" height="66.22" fill="#2fa040" opacity="0.8"/>
<rect x="494.05" y="400.48" width="0.6" height="66.22" fill="#2fa040" opacity="0.8"/>
<line x1="490.15" y1="400.48" x2="490.15" y2="398.97" stroke="#3a3a3a" stroke-width="0.9"/>
<line x1="487.95" y1="398.97" x2="492.35" y2="398.97" stroke="#3a3a3a" stroke-width="0.95"/>
<line x1="490.15" y1="466.7" x2="490.15" y2="469.2" stroke="#333333" stroke-width="1.25"/>
<text x="494.55" y="475.6" font-size="8.2" text-anchor="end" stroke="#222222" stroke-width="0.22" transform="rotate(-45 494.55 475.6)">P</text>
<rect x="499.55" y="387.9" width="9" height="78.8" fill="#5c286e"/>
<rect x="499.55" y="387.9" width="0.6" height="78.8" fill="#4c1a5e" opacity="0.8"/>
<rect x="507.95" y="387.9" width="0.6" height="78.8" fill="#4c1a5e" opacity="0.8"/>
<line x1="504.05" y1="387.9" x2="504.05" y2="385.44" stroke="#3a3a3a" stroke-width="0.9"/>
<line x1="501.85" y1="385.44" x2="506.25" y2="385.44" stroke="#3a3a3a" stroke-width="0.95"/>
<line x1="504.05" y1="466.7" x2="504.05" y2="469.2" stroke="#333333" stroke-width="1.25"/>
<text x="508.45" y="475.6" font-size="8.2" text-anchor="end" stroke="#222222" stroke-width="0.22" transform="rotate(-45 508.45 475.6)">R + P</text>
<text x="416.2" y="392.3" font-size="7.6" text-anchor="middle" fill="#333" stroke="#333" stroke-width="0.12">ns</text>
<text x="429.8" y="394" font-size="7.6" text-anchor="middle" fill="#333" stroke="#333" stroke-width="0.12">ns</text>
<circle cx="441.85" cy="380.8" r="1.0" fill="#383838"/>
<circle cx="445.35" cy="380.8" r="1.0" fill="#383838"/>
<text x="476.3" y="400.2" font-size="7.6" text-anchor="middle" fill="#333" stroke="#333" stroke-width="0.12">ns</text>
<circle cx="489.8" cy="395.5" r="1.0" fill="#383838"/>
<circle cx="503.8" cy="382.1" r="1.0" fill="#383838"/>
<line x1="397" y1="493.9" x2="448.8" y2="493.9" stroke="#747474" stroke-width="1.5"/>
<line x1="457.5" y1="493.9" x2="509.5" y2="493.9" stroke="#747474" stroke-width="1.5"/>
<text x="422.9" y="503.7" font-size="8.7" text-anchor="middle" stroke="#222222" stroke-width="0.22" textLength="28.2" lengthAdjust="spacingAndGlyphs">NOMO-1</text>
<text x="485.6" y="503.7" font-size="8.7" text-anchor="middle" stroke="#222222" stroke-width="0.22" textLength="26.3" lengthAdjust="spacingAndGlyphs">MV4-11</text>
<text x="371" y="419.3" font-size="8.6" text-anchor="middle" stroke="#222222" stroke-width="0.22" transform="rotate(-90 371 419.3)" textLength="113.1" lengthAdjust="spacingAndGlyphs">Cell number normalized to control</text>
</g>
<rect x="0.6" y="0.6" width="518.8" height="508.8" fill="none" stroke="#141414" stroke-width="1.2"/>
</svg>
</body></html>
